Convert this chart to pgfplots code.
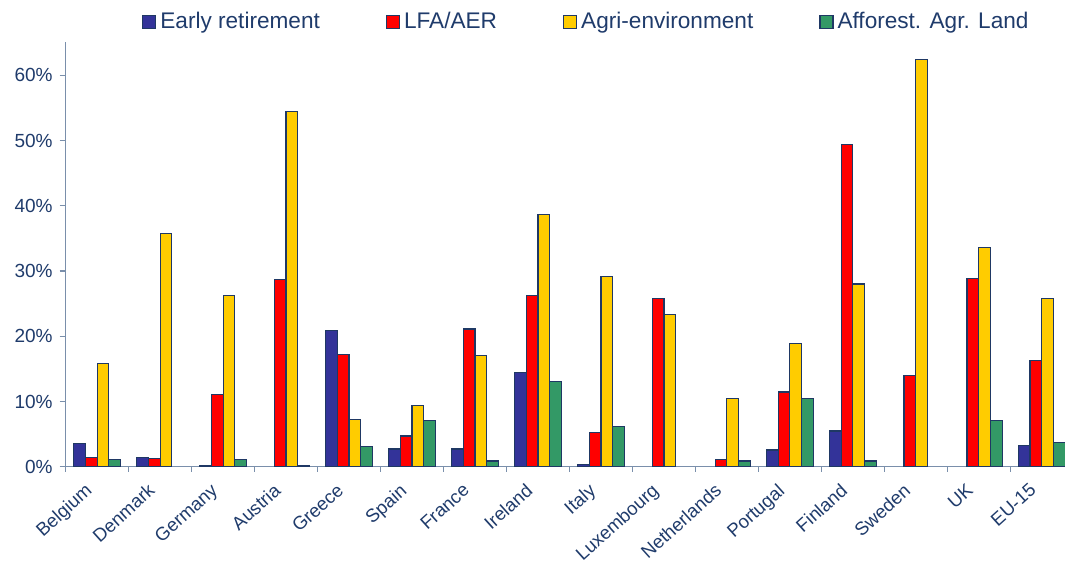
\documentclass[border=0pt]{standalone}
\usepackage{pgfplots}
\pgfplotsset{compat=1.18}
\usepackage{fontspec}
\setmainfont{Liberation Sans}
\definecolor{cblue}{HTML}{333399}
\definecolor{cred}{HTML}{FF0000}
\definecolor{cyel}{HTML}{FFCC00}
\definecolor{cgreen}{HTML}{339966}
\definecolor{edge}{HTML}{1F3864}
\definecolor{txt}{HTML}{1F3B6B}
\definecolor{axl}{HTML}{7A8FAB}
\begin{document}
\begin{tikzpicture}
\begin{axis}[
  width=499.65pt, height=212.35pt, scale only axis,
  xmin=-0.5, xmax=15.37, ymin=0, ymax=65.1,
  ybar=0pt, bar width=5.85pt,
  axis x line=bottom, axis y line=left,
  axis line style={axl, line width=0.7pt, -},
  xtick={0,...,15},
  xticklabels={Belgium,Denmark,Germany,Austria,Greece,Spain,France,Ireland,Italy,Luxembourg,Netherlands,Portugal,Finland,Sweden,UK,EU-15},
  major x tick style={draw=none},
  minor xtick={-0.5,0.5,...,14.5},
  ytick={0,10,...,60},
  yticklabel={\pgfmathprintnumber{\tick}\%},
  /pgf/number format/assume math mode=true,
  tick align=outside,
  major tick length=3pt, minor tick length=2.6pt,
  tick style={axl, line width=0.7pt},
  yticklabel style={font=\fontsize{9.5}{11}\selectfont, text=txt},
  xticklabel style={xshift=-6.5pt, yshift=-2.5pt, rotate=42, anchor=north east, inner sep=1.5pt, font=\fontsize{9.3}{11}\selectfont, text=txt},
  legend columns=4,
  legend cell align=left,
  legend style={at={(0.522,1)}, anchor=center, yshift=10pt, draw=none, fill=none,
    font=\fontsize{11.3}{13}\selectfont, text=txt,
    /tikz/every even column/.append style={column sep=31pt}},
  legend image code/.code={\draw[#1, draw=edge, line width=0.6pt] (0pt,-3.25pt) rectangle (6.5pt,3.25pt);},
]
\coordinate (bl) at (rel axis cs:0,0);
\addplot[fill=cblue, draw=edge, line width=0.6pt] coordinates {
 (0,3.6) (1,1.44) (2,0.2) (4,20.9) (5,2.7) (6,2.7) (7,14.5) (8,0.36) (11,2.56) (12,5.47) (15,3.3)};
\addplot[fill=cred, draw=edge, line width=0.6pt] coordinates {
 (0,1.44) (1,1.3) (2,11.1) (3,28.7) (4,17.2) (5,4.7) (6,21.1) (7,26.3) (8,5.3) (9,25.8) (10,1.1) (11,11.46) (12,49.4) (13,14.0) (14,28.9) (15,16.3)};
\addplot[fill=cyel, draw=edge, line width=0.6pt] coordinates {
 (0,15.8) (1,35.8) (2,26.2) (3,54.4) (4,7.27) (5,9.4) (6,17.1) (7,38.7) (8,29.2) (9,23.3) (10,10.5) (11,18.9) (12,28.0) (13,62.4) (14,33.6) (15,25.8)};
\addplot[fill=cgreen, draw=edge, line width=0.6pt] coordinates {
 (0,1.13) (2,1.13) (3,0.2) (4,3.07) (5,7.1) (6,0.87) (7,13.1) (8,6.2) (10,0.87) (11,10.4) (12,0.87) (14,7.1) (15,3.7)};
\legend{Early retirement, LFA/AER, Agri-environment, Afforest. Agr. Land}
\end{axis}
\pgfresetboundingbox
\useasboundingbox ([shift={(-32.85pt,-50.15pt)}]bl) rectangle ([shift={(499.65pt,233.35pt)}]bl);
\end{tikzpicture}
\end{document}
